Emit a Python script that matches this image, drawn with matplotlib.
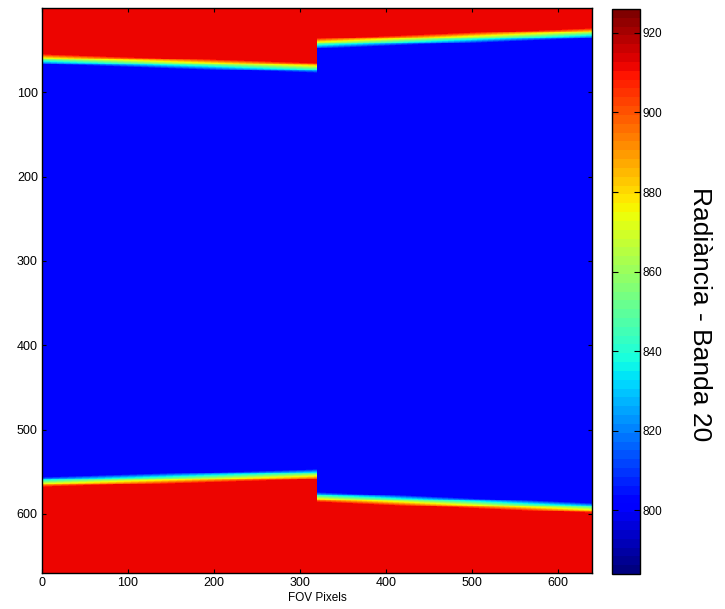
import numpy as np
import matplotlib
matplotlib.use("Agg")
import matplotlib.pyplot as plt

plt.rcParams['font.family'] = ['Liberation Sans', 'DejaVu Sans']

# image size (rows x FOV pixels)
n_rows = 670
n_cols = 640
jump_col = 320

# edges: [at col 0, at col 320] and [at col 320, at col 640]
top_edge_left = [61, 71]
top_edge_right = [42, 30]
bot_edge_left = [562, 553]
bot_edge_right = [580, 593]

# plateau radiances
hot_level = 912
cold_level = 803
ramp_rows = 12

clim = (784, 926)
cbar_ticks = [800, 820, 840, 860, 880, 900, 920]


def edge_line(left, right):
    cols = np.arange(n_cols)
    e = np.empty(n_cols)
    lc = cols < jump_col
    e[lc] = np.interp(cols[lc], [0, jump_col], left)
    e[~lc] = np.interp(cols[~lc], [jump_col, n_cols], right)
    return e


top = edge_line(top_edge_left, top_edge_right)
bot = edge_line(bot_edge_left, bot_edge_right)
rows = np.arange(n_rows)[:, None] + 0.5

# fraction of "hot" (red) signal at each cell
f_top = np.clip((top[None, :] - rows) / ramp_rows + 0.5, 0, 1)
f_bot = np.clip((rows - bot[None, :]) / ramp_rows + 0.5, 0, 1)
frac = np.maximum(f_top, f_bot)
img = cold_level + (hot_level - cold_level) * frac

fig = plt.figure(figsize=(7.25, 6.09), dpi=100)
ax = fig.add_axes([42 / 725, 1 - 573 / 609, 550 / 725, 565 / 609])
cax = fig.add_axes([612 / 725, 1 - 574 / 609, 28 / 725, 565 / 609])

im = ax.imshow(img, cmap=plt.get_cmap('jet', 64), vmin=clim[0], vmax=clim[1],
               extent=[0, n_cols, n_rows, 0], aspect='auto', interpolation='nearest')
ax.set_xticks([0, 100, 200, 300, 400, 500, 600])
ax.set_yticks([100, 200, 300, 400, 500, 600])
ax.tick_params(direction='in', top=True, right=True, length=3, width=0.8,
               labelsize=9, pad=3)
ax.set_xlabel("FOV Pixels", fontsize=8.5, labelpad=2)
for s in ax.spines.values():
    s.set_linewidth(1.0)

cb = fig.colorbar(im, cax=cax, ticks=cbar_ticks)
cb.ax.tick_params(direction='in', left=True, right=True, length=4, width=0.8,
                  labelsize=8.5, pad=2)
cb.outline.set_linewidth(1.0)
fig.text(700 / 725, 1 - 314 / 609, "Radiància - Banda 20", rotation=270,
         fontsize=19, ha='center', va='center')

fig.savefig("out.png", dpi=100)
